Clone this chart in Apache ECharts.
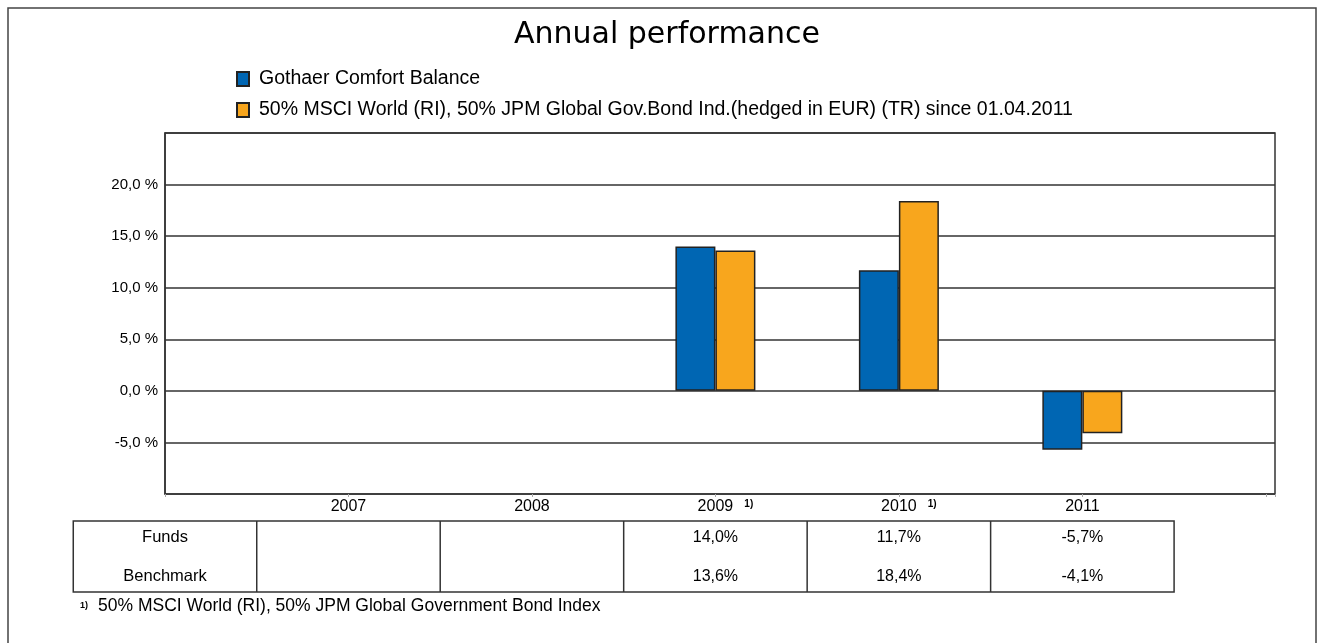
<!DOCTYPE html>
<html>
	<head>
		<meta charset="UTF-8">
		<title>Annual performance</title>
		<script src="https://cdn.jsdelivr.net/npm/echarts@6/dist/echarts.min.js"></script>
		<style>
			html, body { margin: 0; padding: 0; background: #fff; }
			#chart { width: 1323px; height: 643px; }
		</style>
	</head>
	<body>
		<div id="chart"></div>
		<script type="text/javascript">
			// data
			var years = ['2007', '2008', '2009', '2010', '2011'];
			var yearNotes = ['', '', '1)', '1)', ''];
			var fundValues = [null, null, 14.0, 11.7, -5.7];
			var benchValues = [null, null, 13.6, 18.4, -4.1];
			var rowNames = ['Funds', 'Benchmark'];
			var fundName = 'Gothaer Comfort Balance';
			var benchName = '50% MSCI World (RI), 50% JPM Global Gov.Bond Ind.(hedged in EUR) (TR) since 01.04.2011';
			var footNote = '50% MSCI World (RI), 50% JPM Global Government Bond Index';

			var fontSans = '"Liberation Sans", Arial, sans-serif';
			var lineCol = '#333';

			// years sit on x = 1..5, the plot runs a little past the last slot
			function toPoints(arr) {
				var out = [];
				for (var i = 0; i < arr.length; i++) {
					if (arr[i] != null) out.push([i + 1, arr[i]]);
				}
				return out;
			}
			function pct(v) {
				return v == null ? '' : v.toFixed(1).replace('.', ',') + '%';
			}

			var myChart = echarts.init(document.getElementById('chart'));

			var option = {
				animation: false,
				backgroundColor: '#fff',
				title: {
					text: 'Annual performance',
					left: 514,
					top: 20,
					padding: 0,
					textStyle: { fontFamily: '"DejaVu Sans", Verdana, sans-serif', fontSize: 30, fontWeight: 'normal', color: '#000' }
				},
				legend: {
					orient: 'vertical',
					left: 231,
					top: 64,
					itemWidth: 12,
					itemHeight: 14,
					itemGap: 11,
					icon: 'rect',
					textStyle: { fontFamily: fontSans, fontSize: 19.5, color: '#000', padding: [0, 0, 0, 5] },
					data: [fundName, benchName]
				},
				grid: {
					left: 165,
					top: 133,
					width: 1110,
					height: 361,
					show: true,
					borderColor: lineCol,
					borderWidth: 1.5,
					backgroundColor: 'transparent'
				},
				xAxis: {
					type: 'value',
					min: 0,
					max: 6.05,
					interval: 1,
					axisLine: { show: false, onZero: false },
					axisTick: { show: true, length: 3, lineStyle: { color: '#aaa' } },
					axisLabel: {
						margin: 5,
						showMinLabel: true,
						showMaxLabel: true,
						formatter: function (v) {
							var r = Math.round(v);
							var k = r - 1;
							if (Math.abs(v - r) > 1e-6 || k < 0 || k >= years.length) return '';
							if (yearNotes[k]) return '{pad|}{y|' + years[k] + '}{n|' + yearNotes[k] + '}';
							return '{y|' + years[k] + '}';
						},
						rich: {
							y: { fontFamily: fontSans, fontSize: 16, color: '#000' },
							pad: { width: 20 },
							n: { fontFamily: fontSans, fontSize: 10, fontWeight: 'bold', color: '#000', width: 20, align: 'right', verticalAlign: 'top' }
						}
					},
					splitLine: { show: false }
				},
				yAxis: {
					type: 'value',
					min: -10,
					max: 25,
					interval: 5,
					axisLine: { show: true, lineStyle: { color: lineCol, width: 1.5 } },
					axisTick: { show: false },
					axisLabel: {
						margin: 7,
						fontFamily: fontSans,
						fontSize: 15,
						color: '#000',
						formatter: function (v) {
							if (v <= -10 || v >= 25) return '';
							return v.toFixed(1).replace('.', ',') + ' %';
						}
					},
					splitLine: { show: true, lineStyle: { color: lineCol, width: 1.5 } }
				},
				series: [{
					name: fundName,
					type: 'bar',
					barWidth: 40,
					barGap: '0%',
					itemStyle: { color: '#0066b3', borderColor: '#222', borderWidth: 1.5 },
					data: toPoints(fundValues)
				}, {
					name: benchName,
					type: 'bar',
					barWidth: 40,
					barGap: '0%',
					itemStyle: { color: '#f8a61d', borderColor: '#222', borderWidth: 1.5 },
					data: toPoints(benchValues)
				}]
			};
			myChart.setOption(option);

			// table under the axis, columns follow the year positions
			var xs = [];
			for (var i = 1; i <= years.length; i++) xs.push(myChart.convertToPixel({ xAxisIndex: 0 }, i));
			var colW = xs[1] - xs[0];
			var tTop = 521, tBot = 592;
			var rowY = [537, 576];
			var tLeft = xs[0] - colW * 1.5;
			var tRight = xs[xs.length - 1] + colW / 2;
			var g = [];
			g.push({ type: 'rect', shape: { x: 8, y: 8, width: 1308, height: 700 }, style: { fill: 'none', stroke: '#444', lineWidth: 1.5 } });
			g.push({ type: 'rect', shape: { x: tLeft, y: tTop, width: tRight - tLeft, height: tBot - tTop }, style: { fill: 'none', stroke: lineCol, lineWidth: 1.5 } });
			for (var c = 0; c < xs.length; c++) {
				var bx = xs[c] - colW / 2;
				g.push({ type: 'line', shape: { x1: bx, y1: tTop, x2: bx, y2: tBot }, style: { stroke: lineCol, lineWidth: 1.5 } });
			}
			var rowVals = [fundValues, benchValues];
			for (var r = 0; r < rowNames.length; r++) {
				g.push({ type: 'text', x: xs[0] - colW, y: rowY[r], style: { text: rowNames[r], fontFamily: fontSans, fontSize: 16.5, fill: '#000', align: 'center', verticalAlign: 'middle' } });
				for (var c2 = 0; c2 < xs.length; c2++) {
					g.push({ type: 'text', x: xs[c2], y: rowY[r] + 1, style: { text: pct(rowVals[r][c2]), fontFamily: fontSans, fontSize: 16, fill: '#000', align: 'center', verticalAlign: 'middle' } });
				}
			}
			g.push({ type: 'text', x: 80, y: 606, style: { text: '1)', fontFamily: fontSans, fontSize: 9, fontWeight: 'bold', fill: '#000', verticalAlign: 'middle' } });
			g.push({ type: 'text', x: 98, y: 606, style: { text: footNote, fontFamily: fontSans, fontSize: 17.5, fill: '#000', verticalAlign: 'middle' } });
			myChart.setOption({ graphic: g });
		</script>
	</body>
</html>
